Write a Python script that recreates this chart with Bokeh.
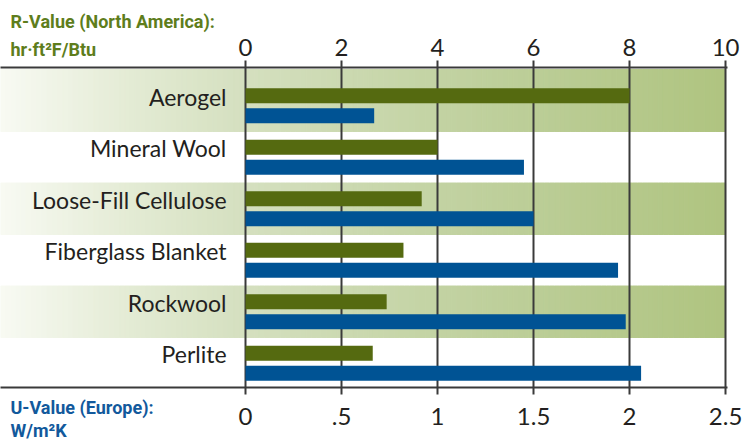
import numpy as np
from bokeh.plotting import figure
from bokeh.models import Range1d, LinearAxis, FixedTicker, Title, ColumnDataSource
from bokeh.core.properties import value
from bokeh.embed import file_html
from bokeh.resources import INLINE

# ---------------- data ----------------
categories = ["Aerogel", "Mineral Wool", "Loose-Fill Cellulose",
              "Fiberglass Blanket", "Rockwool", "Perlite"]
r_values = [8.0, 4.0, 3.67, 3.29, 2.94, 2.65]      # R-value, hr·ft²F/Btu
u_values = [0.67, 1.45, 1.50, 1.94, 1.98, 2.06]    # U-value, W/m²K
r_ticks = [0, 2, 4, 6, 8, 10]
r_tick_labels = ["0", "2", "4", "6", "8", "10"]
u_ticks = [0, 0.5, 1, 1.5, 2, 2.5]
u_tick_labels = ["0", ".5", "1", "1.5", "2", "2.5"]
r_title = ["R-Value (North America):", "hr·ft²F/Btu"]
u_title = ["U-Value (Europe):", "W/m²K"]
shaded_rows = [True, False, True, False, True, False]

# ---------------- style / layout ----------------
GREEN_BAR = "#556a10"
BLUE_BAR = "#005394"
GREEN_TXT = "#5e7d1c"
BLUE_TXT = "#12599c"
DARK = "#3a3a3a"
TXT = "#231f20"
TICK_FONT = "Lato"
TITLE_FONT = "Roboto"
CAT_FONT = "Lato"

W, H = 744, 440
PX_PER_R = 48.0
R0_PX = 245.0                 # pixel of R = 0
R_START = -R0_PX / PX_PER_R
R_END = 10.04
FRAME_W = (R_END - R_START) * PX_PER_R
BORDER_R = int(round(W - FRAME_W))
U_PER_R = 0.25

FRAME_TOP, FRAME_BOT = 67, 387
ROW_PX = 51.5
ROW0_PX = 105.25


def ypx(fy):
    return (fy - ROW0_PX) / ROW_PX


Y_TOP = ypx(FRAME_TOP)
Y_BOT = ypx(FRAME_BOT)

p = figure(width=W, height=H, output_backend="svg", toolbar_location=None,
           title=None, x_axis_location="above", y_axis_type=None,
           x_range=Range1d(R_START, R_END), y_range=Range1d(Y_BOT, Y_TOP),
           min_border_left=0, min_border_right=BORDER_R,
           min_border_top=FRAME_TOP, min_border_bottom=H - FRAME_BOT,
           background_fill_color="white", border_fill_color="white")
p.outline_line_color = None
p.extra_x_ranges = {"u": Range1d(R_START * U_PER_R, R_END * U_PER_R)}

# ---------------- gradient bands ----------------
stop_px = np.array([0, 140, 240, 480, 725])
stop_r = (stop_px - R0_PX) / PX_PER_R
stop_rgb = np.array([[0xf8, 0xfa, 0xf3], [0xe2, 0xea, 0xd2], [0xd5, 0xe0, 0xc0],
                     [0xbf, 0xd0, 0x9d], [0xaf, 0xc4, 0x80]])
edges = np.linspace(R_START, 10, 141)
mids = (edges[:-1] + edges[1:]) / 2
cols = []
for m in mids:
    rgb = [int(round(np.interp(m, stop_r, stop_rgb[:, k]))) for k in range(3)]
    cols.append("#%02x%02x%02x" % tuple(rgb))

band = dict(left=[], right=[], top=[], bottom=[], color=[])
for i, sh in enumerate(shaded_rows):
    if not sh:
        continue
    top = ypx(FRAME_TOP + 2) if i == 0 else i - 0.5
    bot = i + 0.5
    for k in range(len(mids)):
        band["left"].append(edges[k])
        band["right"].append(edges[k + 1])
        band["top"].append(top)
        band["bottom"].append(bot)
        band["color"].append(cols[k])
p.quad(left="left", right="right", top="top", bottom="bottom",
       fill_color="color", line_color="color", line_width=1,
       source=ColumnDataSource(band), level="image")

# ---------------- grid ----------------
p.xgrid.ticker = FixedTicker(ticks=r_ticks)
p.xgrid.grid_line_color = DARK
p.xgrid.grid_line_width = 2
p.ygrid.grid_line_color = None

# ---------------- bars ----------------
idx = np.arange(len(categories))
off = 10 / ROW_PX
bh = 15 / ROW_PX
p.hbar(y=idx - off, left=0, right=r_values, height=bh,
       fill_color=GREEN_BAR, line_color=None)
p.hbar(y=idx + off, left=0, right=u_values, height=bh,
       fill_color=BLUE_BAR, line_color=None, x_range_name="u")

# ---------------- category labels ----------------
p.text(x=[0] * len(categories), y=idx - 0.17, text=categories,
       text_align="right", text_baseline="middle", x_offset=-19,
       text_font=value(CAT_FONT), text_font_size="23px", text_color=TXT)

# ---------------- axes ----------------
def style_axis(ax, ticks, labels, standoff):
    ax.ticker = FixedTicker(ticks=ticks)
    ax.major_label_overrides = dict(zip(ticks, labels))
    ax.axis_line_color = DARK
    ax.axis_line_width = 2
    ax.major_tick_line_color = DARK
    ax.major_tick_line_width = 2
    ax.major_tick_out = 7
    ax.major_tick_in = 0
    ax.minor_tick_line_color = None
    ax.major_label_text_font = TICK_FONT
    ax.major_label_text_font_size = "24px"
    ax.major_label_text_color = TXT
    ax.major_label_standoff = standoff

top_ax = p.xaxis[0]
style_axis(top_ax, r_ticks, r_tick_labels, 5)
bot_ax = LinearAxis(x_range_name="u")
style_axis(bot_ax, u_ticks, u_tick_labels, 13)
p.add_layout(bot_ax, "below")

# ---------------- axis titles (side-panel titles, pulled onto the tick row) ----------------
p.add_layout(Title(text="\n".join(r_title), align="left", offset=10,
                   vertical_align="bottom", standoff=-50,
                   text_font=TITLE_FONT, text_font_style="bold",
                   text_font_size="18px", text_line_height=1.35,
                   text_color=GREEN_TXT), "above")
p.add_layout(Title(text="\n".join(u_title), align="left", offset=10,
                   vertical_align="top", standoff=-62,
                   text_font=TITLE_FONT, text_font_style="bold",
                   text_font_size="18px", text_line_height=1.1,
                   text_color=BLUE_TXT), "below")

open("out.html", "w").write(file_html(p, INLINE))
